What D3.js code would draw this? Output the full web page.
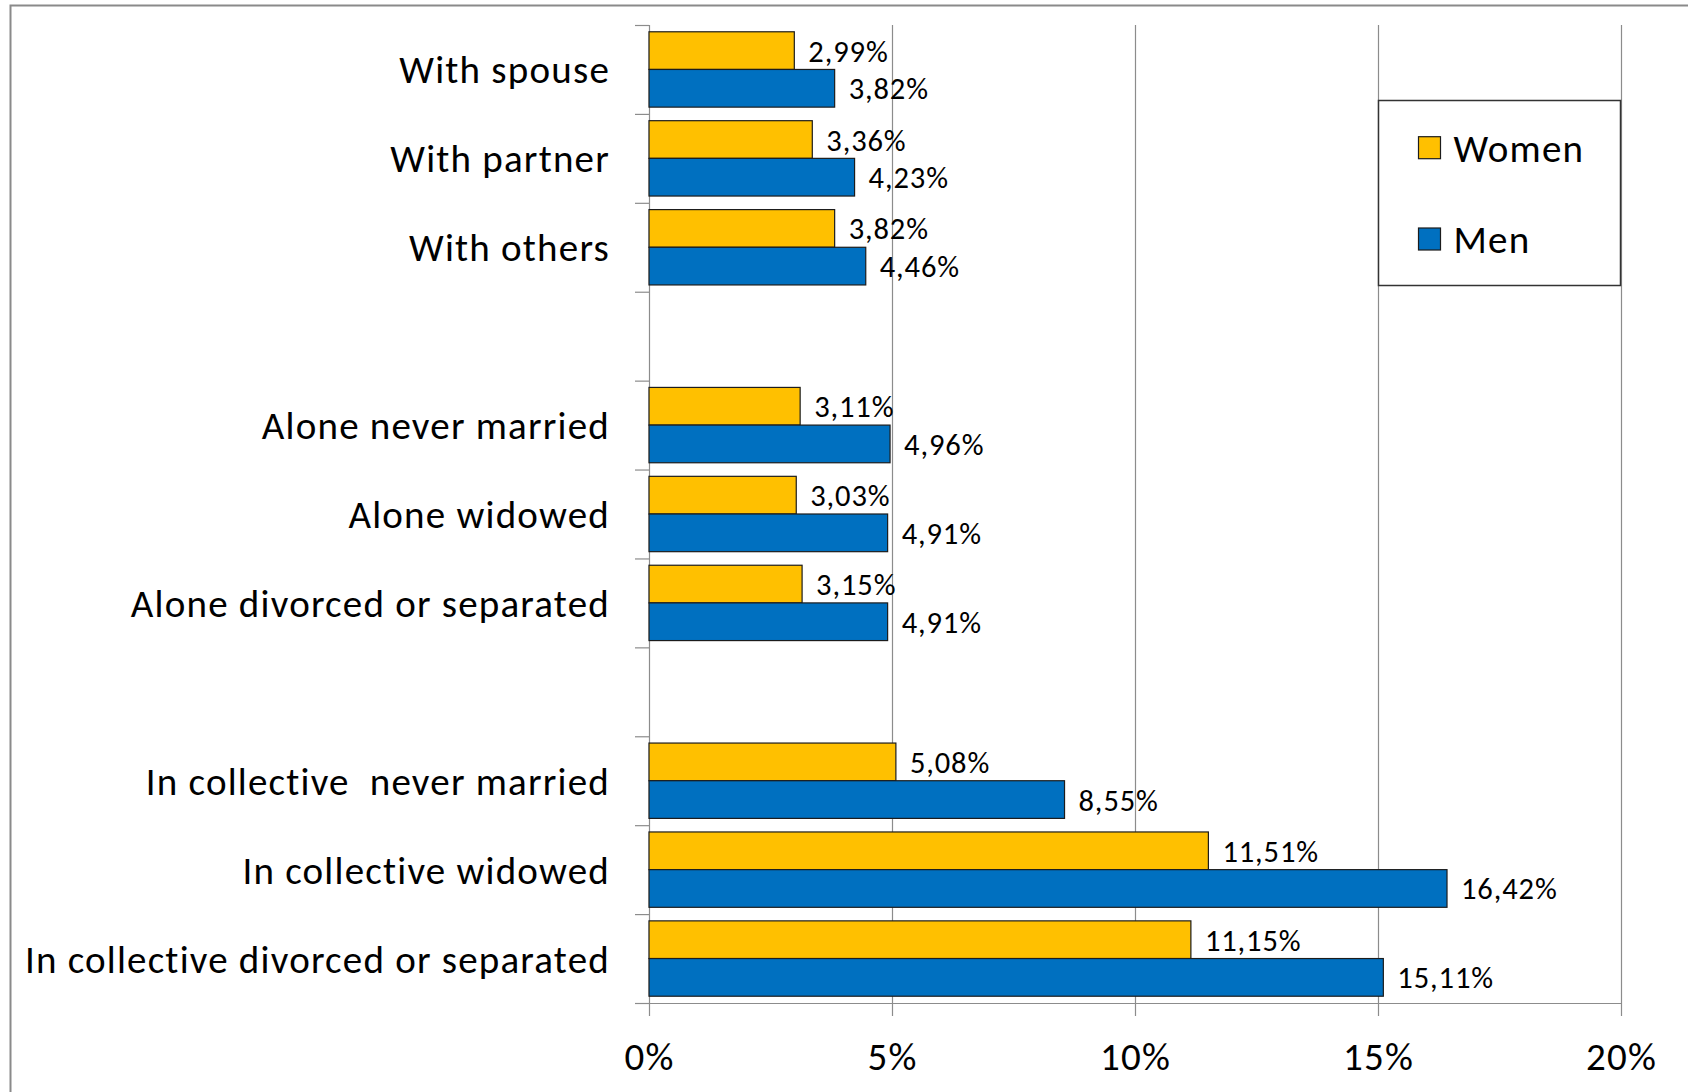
<!DOCTYPE html>
<html>
<head>
<meta charset="utf-8">
<script src="https://cdn.jsdelivr.net/npm/d3@7"></script>
<style>
  body { margin: 0; background: #fff; }
  svg { display: block; font-family: Carlito, Calibri, Lato, sans-serif; }
  text { white-space: pre; }
</style>
</head>
<body>
<script>
// categories top to bottom, '' = empty spacer row
const categories = [
  'With spouse', 'With partner', 'With others', '',
  'Alone never married', 'Alone widowed', 'Alone divorced or separated', '',
  'In collective  never married', 'In collective widowed', 'In collective divorced or separated'
];
const seriesNames = ['Women', 'Men'];
const women = [2.99, 3.36, 3.82, null, 3.11, 3.03, 3.15, null, 5.08, 11.51, 11.15];
const men = [3.82, 4.23, 4.46, null, 4.96, 4.91, 4.91, null, 8.55, 16.42, 15.11];
const xTicks = [0, 5, 10, 15, 20];
const colors = {Women: '#FFC000', Men: '#0070C0'};

const W = 1688, H = 1092;
const plotLeft = 649, plotRight = 1621, plotTop = 25, plotBottom = 1003;
const bigFont = 39, bigSpacing = 1.2;

const chart = d3.select(document.body).append('svg')
  .attr('width', W)
  .attr('height', H);

// outer frame, runs off the right and bottom edges
chart.append('rect')
  .attr('x', 10.5).attr('y', 5.5)
  .attr('width', W).attr('height', H)
  .attr('fill', 'none')
  .attr('stroke', '#8a8a8a')
  .attr('stroke-width', 2);

const x = d3.scaleLinear().domain([0, 20]).range([plotLeft, plotRight]);
const y = d3.scaleBand().domain(d3.range(categories.length)).range([plotTop, plotBottom]);
const ySub = d3.scaleBand().domain(seriesNames).range([0, y.bandwidth()])
  .paddingInner(0).paddingOuter(0.18);

// vertical gridlines (also act as tick marks below the axis)
chart.append('g').selectAll('line')
  .data(xTicks)
  .join('line')
  .attr('x1', d => x(d) + 0.5).attr('x2', d => x(d) + 0.5)
  .attr('y1', plotTop).attr('y2', plotBottom + 13)
  .attr('stroke', '#8c8c8c')
  .attr('stroke-width', 1.2);

// horizontal axis line
chart.append('line')
  .attr('x1', plotLeft - 14).attr('x2', plotRight)
  .attr('y1', plotBottom + 0.5).attr('y2', plotBottom + 0.5)
  .attr('stroke', '#8c8c8c')
  .attr('stroke-width', 1.2);

// y ticks at band boundaries
const bounds = d3.range(categories.length).map(i => y(i)).concat([plotBottom]);
chart.append('g').selectAll('line')
  .data(bounds)
  .join('line')
  .attr('x1', plotLeft - 14).attr('x2', plotLeft)
  .attr('y1', d => d + 0.5).attr('y2', d => d + 0.5)
  .attr('stroke', '#8c8c8c')
  .attr('stroke-width', 1.2);

// x axis labels
const xAxis = chart.append('g')
  .attr('transform', `translate(0,${plotBottom})`)
  .call(d3.axisBottom(x).tickValues(xTicks).tickFormat(d => d + '%').tickSize(0));
xAxis.select('.domain').remove();
xAxis.selectAll('text')
  .attr('y', 67).attr('dy', null)
  .attr('font-size', bigFont)
  .attr('letter-spacing', bigSpacing)
  .attr('font-family', 'Carlito, Calibri, Lato, sans-serif')
  .attr('fill', '#000');

// category labels
const yAxis = chart.append('g')
  .attr('transform', `translate(${plotLeft},0)`)
  .call(d3.axisLeft(y).tickFormat(i => categories[i]).tickSize(0).tickPadding(39));
yAxis.select('.domain').remove();
yAxis.selectAll('text')
  .attr('dy', null)
  .attr('y', 14)
  .attr('font-size', bigFont)
  .attr('letter-spacing', bigSpacing)
  .attr('font-family', 'Carlito, Calibri, Lato, sans-serif')
  .attr('fill', '#000');

// bars
const rows = categories.map((c, i) => ({i, Women: women[i], Men: men[i]}))
  .filter(r => r.Women != null);
const fmt = d3.formatLocale({decimal: ',', thousands: '.', grouping: [3], currency: ['', '']}).format('.2f');

const groups = chart.append('g').selectAll('g')
  .data(rows)
  .join('g')
  .attr('transform', r => `translate(0,${y(r.i)})`);

groups.selectAll('rect')
  .data(r => seriesNames.map(s => ({s, v: r[s]})))
  .join('rect')
  .attr('x', plotLeft)
  .attr('y', d => ySub(d.s))
  .attr('width', d => x(d.v) - plotLeft)
  .attr('height', ySub.bandwidth())
  .attr('fill', d => colors[d.s])
  .attr('stroke', '#1c1c1c')
  .attr('stroke-width', 1.2);

groups.selectAll('text')
  .data(r => seriesNames.map(s => ({s, v: r[s]})))
  .join('text')
  .attr('x', d => x(d.v) + 14)
  .attr('y', d => ySub(d.s) + ySub.bandwidth() / 2 + 11)
  .attr('font-size', 30.5)
  .attr('letter-spacing', 0.9)
  .attr('fill', '#000')
  .text(d => fmt(d.v) + '%');

// legend
const legend = chart.append('g');
legend.append('rect')
  .attr('x', 1378.5).attr('y', 100.5)
  .attr('width', 242).attr('height', 185)
  .attr('fill', '#fff')
  .attr('stroke', '#333')
  .attr('stroke-width', 1.5);
const items = legend.selectAll('g.item')
  .data(seriesNames)
  .join('g')
  .attr('class', 'item')
  .attr('transform', (d, i) => `translate(1418.5,${147.7 + i * 91.3})`);
items.append('rect')
  .attr('x', 0).attr('y', -11)
  .attr('width', 22).attr('height', 22)
  .attr('fill', d => colors[d])
  .attr('stroke', '#1c1c1c')
  .attr('stroke-width', 1.2);
items.append('text')
  .attr('x', 35).attr('y', 14)
  .attr('font-size', bigFont)
  .attr('letter-spacing', bigSpacing)
  .attr('fill', '#000')
  .text(d => d);
</script>
</body>
</html>
